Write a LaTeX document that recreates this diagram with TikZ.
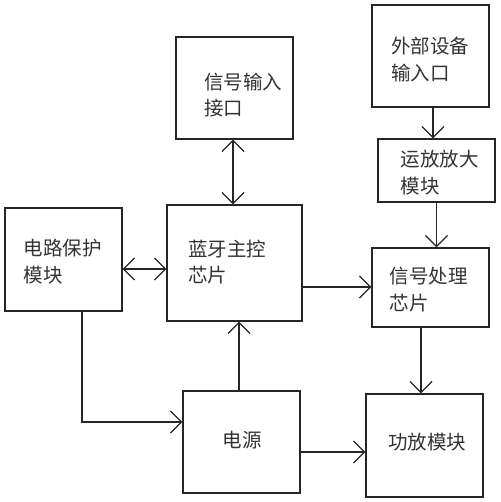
\documentclass[tikz,border=0pt]{standalone}
\usepackage{fontspec}
\newfontfamily\cjk{Noto Sans CJK SC}
\usetikzlibrary{arrows.meta}
\begin{document}
\begin{tikzpicture}[x=1pt,y=-1pt,
  box/.style={draw=black!85, line width=1.3pt, inner sep=0pt},
  lbl/.style={align=left, inner sep=0pt, font=\cjk\fontsize{19.5}{26.5}\selectfont, text=black!80},
  conn/.style={draw=black!85, line width=1.3pt},
  tip/.style={-{Straight Barb[length=11pt,width=22pt,line width=1.3pt]}},
  tips/.style={{Straight Barb[length=11pt,width=22pt,line width=1.3pt]}-{Straight Barb[length=11pt,width=22pt,line width=1.3pt]}}]
\useasboundingbox (0,0) rectangle (500,502);
\fill[white] (0,0) rectangle (500,502);
\node[box, minimum width=117pt, minimum height=102pt] (sigin) at (234.5,88) {};
\node[box, minimum width=117pt, minimum height=102pt] (ext) at (430.5,56) {};
\node[box, minimum width=117pt, minimum height=63pt] (amp) at (436.5,170.5) {};
\node[box, minimum width=135pt, minimum height=116pt] (bt) at (234.5,263) {};
\node[box, minimum width=117pt, minimum height=103pt] (prot) at (63.5,259.5) {};
\node[box, minimum width=117pt, minimum height=79pt] (dsp) at (430.5,287.5) {};
\node[box, minimum width=117pt, minimum height=102pt] (pwr) at (241.5,442) {};
\node[box, minimum width=117pt, minimum height=103pt] (pa) at (424.5,445.5) {};

\node[lbl] (sigin-t) at (243,95) {信号输入\\接口};
\node[lbl] (ext-t) at (430,59.5) {外部设备\\输入口};
\node[lbl] (amp-t) at (439.5,172.5) {运放放大\\模块};
\node[lbl] (bt-t) at (227,262) {蓝牙主控\\芯片};
\node[lbl] (prot-t) at (62.5,261.5) {电路保护\\模块};
\node[lbl] (dsp-t) at (428.5,289.5) {信号处理\\芯片};
\node[lbl] (pwr-t) at (242,440) {电源};
\node[lbl] (pa-t) at (427,442) {功放模块};

\draw[conn, tips] ([xshift=-1.5pt]sigin.south) -- ([xshift=-1.5pt]sigin.south |- bt.north);
\draw[conn, tip] ([xshift=2.5pt]ext.south) -- ([xshift=2.5pt]ext.south |- amp.north);
\draw[conn, tip] (amp.south) -- (amp.south |- dsp.north);
\draw[conn, tips] ([yshift=-9.5pt]prot.east) -- ([yshift=-9.5pt]prot.east -| bt.west);
\draw[conn, tip] ([yshift=-24pt]bt.east) -- ([yshift=-24pt]bt.east -| dsp.west);
\draw[conn, tip] ([xshift=-9.5pt]dsp.south) -- ([xshift=-9.5pt]dsp.south |- pa.north);
\draw[conn, tip] ([yshift=-10pt]pwr.east) -- ([yshift=-10pt]pwr.east -| pa.west);
\draw[conn, tip] ([xshift=-2.5pt]pwr.north) -- ([xshift=-2.5pt]pwr.north |- bt.south);
\draw[conn, tip] ([xshift=18.5pt]prot.south) |- ([yshift=20pt]pwr.west);
\end{tikzpicture}
\end{document}
